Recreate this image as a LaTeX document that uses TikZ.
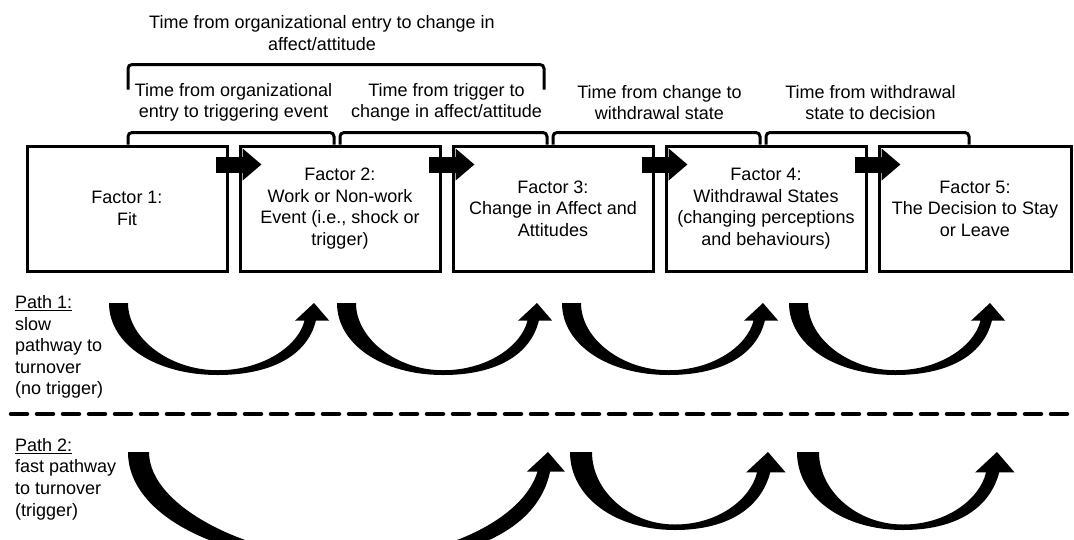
\documentclass[tikz,border=0pt]{standalone}
\usepackage{fontspec}
\setmainfont{Liberation Sans}
\usetikzlibrary{arrows.meta, positioning, calc}

\begin{document}
\begin{tikzpicture}[
        x=1pt, y=-1pt,
        node distance=10pt,
        % Global Styles
        factor/.style={rectangle, draw, line width=3pt, minimum width=200pt, minimum height=125pt, align=center, font=\fontsize{18}{21.6}\selectfont},
        note/.style={align=center, inner sep=0pt, font=\fontsize{18}{21.6}\selectfont},
        pathlabel/.style={align=left, anchor=west, inner sep=0pt, font=\fontsize{18}{21.6}\selectfont},
        push/.style={draw, line width=16pt, -{Triangle[length=19pt, width=31pt]}}, % Block arrow between factors
        timespan/.style={draw, line width=3pt, rounded corners=4pt}, % Bracket over the boxes
        divider/.style={draw, line width=4.5pt, dash pattern=on 16pt off 10pt, line cap=round},
        % Tapered curved arrow: span, depth, thickness
        pics/swoop/.style n args={3}{code={
            \fill (0,0) -- (#3,0)
                .. controls (#3,{0.5*#2}) and ({0.3*#1},{#2-0.25*#3}) .. ({0.53*#1},{#2-0.25*#3})
                .. controls ({0.75*#1},{#2-0.25*#3}) and ({#1-0.22*#2},{0.6*#2}) .. ({#1-0.5*#3},{0.93*#3})
                -- ({#1-1.0*#3},{0.93*#3}) -- (#1,0) -- ({#1+0.8*#3},{0.93*#3}) -- ({#1+0.1*#3},{0.93*#3})
                .. controls ({#1-0.1*#2},{0.75*#2}) and ({0.78*#1},#2) .. ({0.53*#1},#2)
                .. controls ({0.23*#1},#2) and (0,{0.58*#2}) .. (0,0) -- cycle;
        }}
    ]

    \path [use as bounding box, clip] (0,0) rectangle (1074,539);

    % --- Nodes ---

    % 1. Factor boxes
    \node [factor] (f1) at (127,208.5) {Factor 1:\\Fit};
    \node [factor, right=of f1] (f2) {Factor 2:\\Work or Non-work\\Event (i.e., shock or\\trigger)};
    \node [factor, right=of f2] (f3) {Factor 3:\\Change in Affect and\\Attitudes};
    \node [factor, right=of f3] (f4) {Factor 4:\\Withdrawal States\\(changing perceptions\\and behaviours)};
    \node [factor, right=of f4, minimum width=192pt] (f5) {Factor 5:\\The Decision to Stay\\or Leave};

    % 2. Time labels
    \node [note] (t13) at ($(f2.north)+(-18,-111.5)$) {Time from organizational entry to change in\\affect/attitude};
    \node [note] (t12) at ($(f1.north)!0.5!(f2.north)+(0,-42)$) {Time from organizational\\entry to triggering event};
    \node [note] (t23) at ($(f2.north)!0.5!(f3.north)+(0,-42)$) {Time from trigger to\\change in affect/attitude};
    \node [note] (t34) at ($(f3.north)!0.5!(f4.north)+(0,-42)$) {Time from change to\\withdrawal state};
    \node [note] (t45) at ($(f4.north)!0.5!(f5.north)+(0,-42)$) {Time from withdrawal\\state to decision};

    % 3. Path labels
    \node [pathlabel] (slow) at (15,347) {\underline{Path 1:}\\slow\\pathway to\\turnover\\(no trigger)};
    \node [pathlabel] (fast) at (15,479) {\underline{Path 2:}\\fast pathway\\to turnover\\(trigger)};

    % --- Paths ---

    % Brackets
    \draw [timespan] ($(f1.north)+(1,-55)$) -- ++(0,-25) -| ($(f3.north)+(-9,-55)$);
    \draw [timespan] ($(f1.north)+(1,0)$) -- ++(0,-12) -| ($(f2.north)+(-6,0)$);
    \draw [timespan] ($(f2.north)+(0,0)$) -- ++(0,-12) -| ($(f3.north)+(-6,0)$);
    \draw [timespan] ($(f3.north)+(0,0)$) -- ++(0,-12) -| ($(f4.north)+(-6,0)$);
    \draw [timespan] ($(f4.north)+(0,0)$) -- ++(0,-12) -| ($(f5.north)+(-6,0)$);

    % Block arrows between factors
    \draw [push] ($(f1.north east)+(-13,20)$) -- ($(f2.north west)+(23,20)$);
    \draw [push] ($(f2.north east)+(-13,20)$) -- ($(f3.north west)+(23,20)$);
    \draw [push] ($(f3.north east)+(-13,20)$) -- ($(f4.north west)+(23,20)$);
    \draw [push] ($(f4.north east)+(-13,20)$) -- ($(f5.north west)+(23,20)$);

    % Divider
    \draw [divider] (11,414) -- (1074,414);

    % Path 1: slow pathway
    \pic at (109,303) {swoop={205}{72}{19}};
    \pic at (337,303) {swoop={200}{72}{19}};
    \pic at (562,303) {swoop={201}{72}{19}};
    \pic at (789,303) {swoop={201}{72}{19}};

    % Path 2: fast pathway
    \pic at (128,452) {swoop={420}{112}{21}};
    \pic at (570,452) {swoop={198}{78}{22}};
    \pic at (797,452) {swoop={200}{78}{22}};

\end{tikzpicture}
\end{document}
